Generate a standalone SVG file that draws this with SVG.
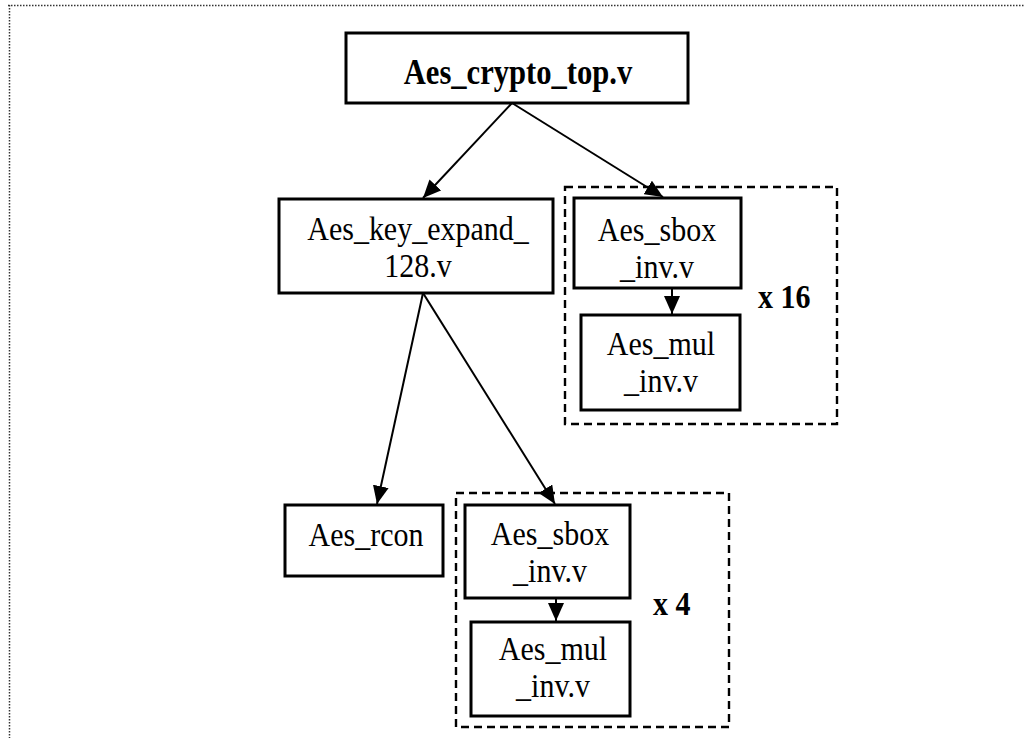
<svg xmlns="http://www.w3.org/2000/svg" width="1025" height="738" viewBox="0 0 1025 738">
<defs>
<marker id="ah" markerUnits="userSpaceOnUse" markerWidth="18" markerHeight="16" viewBox="0 0 18 16" refX="18" refY="8" orient="auto">
<path d="M0,0 L18,8 L0,16 Z" fill="#000"/>
</marker>
<style>
.box{fill:#fff;stroke:#000;stroke-width:3}
.grp{fill:none;stroke:#000;stroke-width:2.4;stroke-dasharray:8 5}
.frame{fill:none;stroke:#333;stroke-width:1.5;stroke-dasharray:1.5 1.5}
.t{font-family:"Liberation Serif","Times New Roman",serif;font-size:30px;fill:#000;text-anchor:middle}
.b{font-weight:bold}
.s{text-anchor:start}
.edge{stroke:#000;stroke-width:2;fill:none;marker-end:url(#ah)}
</style>
</defs>
<rect width="1025" height="738" fill="#fff"/>
<path class="frame" d="M8,5.5 H1025 M9.5,5 V738"/>

<g id="group16"><rect class="grp" x="565" y="187" width="272" height="237"/></g>
<g id="group4"><rect class="grp" x="456" y="493" width="273" height="234"/></g>

<g id="connectors">
<line class="edge" x1="512" y1="103" x2="423" y2="198"/>
<line class="edge" x1="512" y1="103" x2="663" y2="197"/>
<line class="edge" x1="672" y1="288" x2="672" y2="314"/>
<line class="edge" x1="423" y1="293" x2="377" y2="504"/>
<line class="edge" x1="423" y1="293" x2="555" y2="504"/>
<line class="edge" x1="556" y1="598" x2="556" y2="621"/>
</g>

<g id="top">
<rect class="box" x="346" y="33" width="342" height="70"/>
<text class="t b" transform="translate(518,84) scale(1.02,1.22)">Aes_crypto_top.v</text>
</g>
<g id="keyexpand">
<rect class="box" x="279" y="199" width="274" height="94"/>
<text class="t" transform="translate(418,240) scale(1,1.1)">Aes_key_expand_</text>
<text class="t" transform="translate(418,277) scale(1,1.1)">128.v</text>
</g>
<g id="sbox1">
<rect class="box" x="574" y="198" width="167" height="90"/>
<text class="t" transform="translate(657,241) scale(1,1.1)">Aes_sbox</text>
<text class="t" transform="translate(657,278) scale(1,1.1)">_inv.v</text>
</g>
<g id="mul1">
<rect class="box" x="581" y="315" width="159" height="95"/>
<text class="t" transform="translate(661,355) scale(1,1.1)">Aes_mul</text>
<text class="t" transform="translate(661,392) scale(1,1.1)">_inv.v</text>
</g>
<g id="label16"><text class="t b s" transform="translate(758,308) scale(1,1.15)">x 16</text></g>

<g id="rcon">
<rect class="box" x="285" y="505" width="158" height="71"/>
<text class="t" transform="translate(366,546) scale(1,1.15)">Aes_rcon</text>
</g>
<g id="sbox2">
<rect class="box" x="465" y="505" width="165" height="93"/>
<text class="t" transform="translate(550,545) scale(1,1.1)">Aes_sbox</text>
<text class="t" transform="translate(550,582) scale(1,1.1)">_inv.v</text>
</g>
<g id="mul2">
<rect class="box" x="471" y="622" width="159" height="94"/>
<text class="t" transform="translate(553,660) scale(1,1.1)">Aes_mul</text>
<text class="t" transform="translate(553,697) scale(1,1.1)">_inv.v</text>
</g>
<g id="label4"><text class="t b s" transform="translate(653,615) scale(1,1.15)">x 4</text></g>
</svg>
